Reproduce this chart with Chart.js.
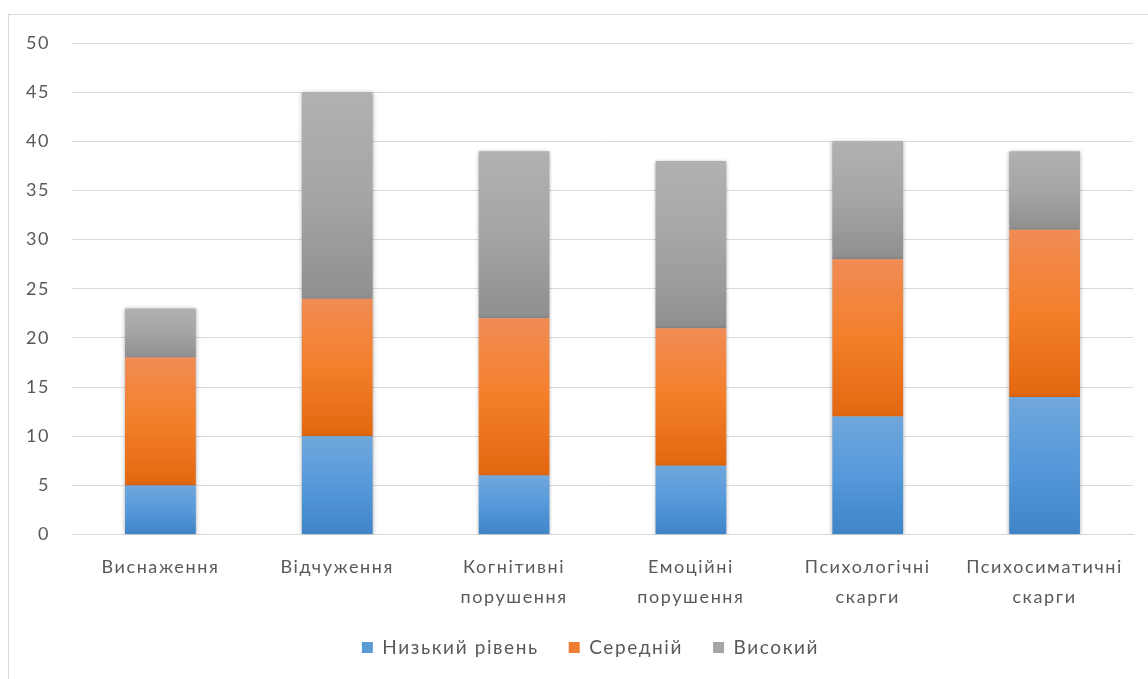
<!DOCTYPE html>
<html>
<head>
<meta charset="utf-8">
<script src="https://cdn.jsdelivr.net/npm/chart.js@4.4.1/dist/chart.umd.min.js"></script>
<style>
  html, body { margin: 0; padding: 0; background: #fff; overflow: hidden; }
  #frame {
    position: absolute; left: 8px; top: 14px;
    width: 1165px; height: 672px;
    border: 1px solid #d9d9d9; box-sizing: border-box; background: #fff;
  }
  canvas { display: block; }
</style>
</head>
<body>
<div id="frame"><canvas id="chart"></canvas></div>
<script>
// Categories (multi-line labels)
const categories = [
  ['Виснаження'],
  ['Відчуження'],
  ['Когнітивні', 'порушення'],
  ['Емоційні', 'порушення'],
  ['Психологічні', 'скарги'],
  ['Психосиматичні', 'скарги']
];
const seriesNames = ['Низький рівень', 'Середній', 'Високий'];
const lowLevel = [5, 10, 6, 7, 12, 14];
const midLevel = [13, 14, 16, 14, 16, 17];
const highLevel = [5, 21, 17, 17, 12, 8];
const yTicks = [0, 5, 10, 15, 20, 25, 30, 35, 40, 45, 50];

// Vertical gradient stops per series: top, middle, bottom
const gradientStops = [
  ['#70a7dc', '#5599da', '#3f84c7'],
  ['#f08c55', '#f47f2a', '#e2670f'],
  ['#b1b1b1', '#a5a5a5', '#8f8f8f']
];
const legendColors = ['#5b9bd5', '#ed7d31', '#a5a5a5'];

const textColor = '#595959';
const baseFont = { family: 'Lato, "Open Sans", sans-serif', size: 18 };
const textSpacing = '1.6px';

const series = [lowLevel, midLevel, highLevel];

// Gradient for one stacked segment, computed from the y scale
function segmentFill(c, si) {
  const chart = c.chart;
  const y = chart.scales && chart.scales.y;
  if (c.type !== 'data' || !y) return legendColors[si];
  let below = 0;
  for (let k = 0; k < si; k++) below += series[k][c.dataIndex];
  const above = below + series[si][c.dataIndex];
  const yTop = y.getPixelForValue(above);
  const yBot = y.getPixelForValue(below);
  if (!isFinite(yTop) || !isFinite(yBot) || yTop === yBot) return legendColors[si];
  const g = chart.ctx.createLinearGradient(0, yTop, 0, yBot);
  const s = gradientStops[si];
  g.addColorStop(0, s[0]);
  g.addColorStop(0.5, s[1]);
  g.addColorStop(1, s[2]);
  return g;
}

// Letter spacing for all canvas text, a soft shadow under the bars,
// and the legend centred on the whole frame rather than the padded area
const canvasStyle = {
  id: 'canvasStyle',
  beforeLayout(chart) { chart.ctx.letterSpacing = textSpacing; },
  afterLayout(chart) {
    if (chart.legend) chart.legend.left += 25;
  },
  beforeDraw(chart) { chart.ctx.letterSpacing = textSpacing; },
  beforeDatasetDraw(chart) {
    const ctx = chart.ctx;
    ctx.save();
    ctx.shadowColor = 'rgba(0,0,0,0.35)';
    ctx.shadowBlur = 4;
    ctx.shadowOffsetX = 0;
    ctx.shadowOffsetY = 1;
  },
  afterDatasetDraw(chart) {
    chart.ctx.restore();
  }
};

new Chart(document.getElementById('chart'), {
  type: 'bar',
  data: {
    labels: categories,
    datasets: series.map((values, i) => ({
      label: seriesNames[i],
      data: values,
      backgroundColor: (c) => segmentFill(c, i),
      borderWidth: 0,
      categoryPercentage: 1.0,
      barPercentage: 0.4
    }))
  },
  options: {
    responsive: true,
    maintainAspectRatio: false,
    animation: false,
    layout: { padding: { left: 14, right: 39, top: 28, bottom: 18 } },
    plugins: {
      legend: {
        position: 'bottom',
        labels: {
          color: textColor,
          font: { ...baseFont, size: 19 },
          boxWidth: 11,
          boxHeight: 11,
          padding: 30,
          generateLabels(chart) {
            return chart.data.datasets.map((ds, i) => ({
              text: ds.label,
              fillStyle: legendColors[i],
              strokeStyle: legendColors[i],
              lineWidth: 0,
              fontColor: textColor,
              datasetIndex: i,
              hidden: false
            }));
          }
        }
      },
      tooltip: { enabled: false }
    },
    scales: {
      x: {
        stacked: true,
        grid: { display: false, drawTicks: false },
        border: { display: true, color: '#d9d9d9' },
        afterFit(axis) { axis.height -= 22; },
        ticks: {
          color: textColor,
          font: { ...baseFont, lineHeight: 1.65 },
          padding: 18,
          maxRotation: 0,
          autoSkip: false
        }
      },
      y: {
        stacked: true,
        min: 0,
        max: 50,
        afterBuildTicks(axis) {
          axis.ticks = yTicks.map(v => ({ value: v }));
        },
        afterFit(axis) {
          axis.width = 49;
          axis.paddingTop = 0;
        },
        grid: { color: '#d9d9d9', lineWidth: 1, drawTicks: false },
        border: { display: false },
        ticks: {
          color: textColor,
          font: baseFont,
          padding: 22
        }
      }
    }
  },
  plugins: [canvasStyle]
});
</script>
</body>
</html>
